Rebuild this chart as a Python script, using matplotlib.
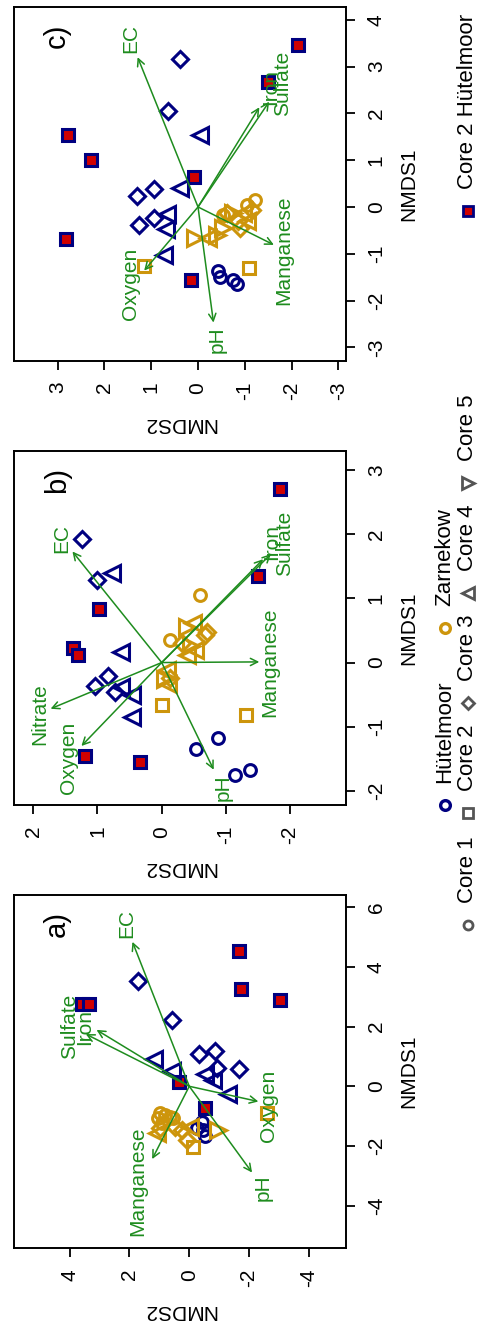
import numpy as np
import matplotlib
matplotlib.use('Agg')
import matplotlib.pyplot as plt

plt.rcParams['font.family'] = ['Liberation Sans', 'DejaVu Sans']
plt.rcParams['axes.unicode_minus'] = False

# ---- panel a) ----
a_nmds1 = [4.54, 3.25, 2.89, 2.76, 2.76, 0.16, -0.74,
           3.53, 2.22, 1.08, 1.19, 0.60, 0.57,
           0.92, 0.52, 0.40, 0.21, -0.26,
           -1.19, -1.47, -1.67, -1.40,
           -0.89, -0.96, -1.06, -1.02, -1.06, -1.23,
           -2.02, -0.88,
           -1.46, -1.80, -1.40, -1.36,
           -1.36, -1.57,
           -1.46]
a_nmds2 = [-1.67, -1.72, -3.03, 3.60, 3.35, 0.33, -0.52,
           1.71, 0.59, -0.33, -0.86, -0.94, -1.67,
           1.18, 0.59, -0.52, -0.80, -1.30,
           -0.42, -0.46, -0.52, -0.26,
           0.98, 0.81, 1.05, 0.65, 0.55, 0.91,
           -0.14, -2.59,
           0.25, 0.09, 0.98, 0.48,
           -0.02, 1.09,
           -0.97]
a_site = ['H'] * 22 + ['Z'] * 15
a_core = [2] * 7 + [3] * 6 + [4] * 5 + [1] * 4 + [1] * 6 + [2] * 2 + [3] * 4 + [4] * 2 + [5]
a_vec = ['EC', 'Sulfate', 'Iron', 'Oxygen', 'pH', 'Manganese']
a_vec1 = [4.84, 1.75, 1.89, -0.51, -2.89, -2.44]
a_vec2 = [1.90, 3.46, 3.10, -2.31, -2.10, 1.24]
a_lab1 = [5.46, 2.00, 2.00, -0.66, -3.41, -3.19]
a_lab2 = [2.10, 3.99, 3.50, -2.64, -2.47, 1.71]

# ---- panel b) ----
b_nmds1 = [2.71, 1.35, 0.84, 0.23, 0.11, -1.46, -1.55,
           1.92, 1.29, -0.21, -0.36, -0.46,
           1.39, 0.16, -0.38, -0.51, -0.85,
           -1.17, -1.34, -1.68, -1.75,
           1.05, 0.35,
           -0.66, -0.82,
           0.43, 0.30, -0.24, 0.48,
           0.61, 0.19, 0.11, -0.12, -0.33,
           0.55, 0.25, -0.25]
b_nmds2 = [-1.85, -1.50, 0.98, 1.38, 1.31, 1.19, 0.33,
           1.24, 1.00, 0.83, 1.04, 0.73,
           0.78, 0.64, 0.64, 0.47, 0.46,
           -0.87, -0.53, -1.38, -1.14,
           -0.60, -0.13,
           0.00, -1.32,
           -0.68, -0.31, -0.13, -0.70,
           -0.49, -0.52, -0.39, -0.08, -0.10,
           -0.40, -0.45, -0.05]
b_site = ['H'] * 21 + ['Z'] * 16
b_core = [2] * 7 + [3] * 5 + [4] * 5 + [1] * 4 + [1] * 2 + [2] * 2 + [3] * 4 + [4] * 5 + [5] * 3
b_vec = ['EC', 'Iron', 'Sulfate', 'Manganese', 'Nitrate', 'Oxygen', 'pH']
b_vec1 = [1.73, 1.61, 1.69, 0.01, -0.72, -1.30, -1.67]
b_vec2 = [1.39, -1.58, -1.70, -1.52, 1.73, 1.25, -0.81]
b_lab1 = [1.93, 1.88, 1.86, 0.01, -0.81, -1.48, -1.95]
b_lab2 = [1.56, -1.71, -1.92, -1.69, 1.90, 1.45, -0.95]

# ---- panel c) ----
c_nmds1 = [3.45, 2.67, 1.53, 1.00, 0.65, -0.68, -1.55,
           3.16, 2.05, 0.38, 0.23, -0.24, -0.38,
           1.54, 0.40, -0.14, -0.48, -1.03,
           -1.36, -1.50, -1.56, -1.65,
           0.15, -0.17, 0.05,
           -1.27, -1.31,
           -0.13, -0.06, -0.31, -0.45,
           -0.67, -0.13, -0.31,
           -0.67, -0.46, -0.13, -0.60]
c_nmds2 = [-2.13, -1.50, 2.77, 2.29, 0.08, 2.82, 0.15,
           0.38, 0.65, 0.95, 1.30, 0.95, 1.25,
           -0.04, 0.38, 0.67, 0.68, 0.73,
           -0.42, -0.47, -0.75, -0.84,
           -1.22, -0.54, -1.05,
           1.15, -1.08,
           -0.61, -1.15, -0.85, -0.90,
           -0.22, -0.97, -1.04,
           0.06, -0.54, -0.75, -0.40]
c_site = ['H'] * 22 + ['Z'] * 16
c_core = [2] * 7 + [3] * 6 + [4] * 5 + [1] * 4 + [1] * 3 + [2] * 2 + [3] * 4 + [4] * 3 + [5] * 4
c_vec = ['EC', 'Iron', 'Sulfate', 'Manganese', 'Oxygen', 'pH']
c_vec1 = [3.20, 2.13, 2.25, -0.81, -1.36, -2.47]
c_vec2 = [1.29, -1.31, -1.52, -1.62, 1.15, -0.33]
c_lab1 = [3.60, 2.57, 2.63, -0.92, -1.65, -2.84]
c_lab2 = [1.44, -1.55, -1.81, -1.84, 1.44, -0.40]

site_labels = ['Hütelmoor', 'Zarnekow']
core_labels = ['Core 1', 'Core 2', 'Core 3', 'Core 4', 'Core 5', 'Core 2 Hütelmoor']

navy = '#000080'
gold = '#CD950C'
green = '#1E8C1E'
red = '#D00000'
grey = '#555555'

# the whole figure is turned a quarter, so up/down triangles become left/right
marker = {1: 'o', 2: 's', 3: 'D', 4: '<', 5: '>'}
msize = {1: 8.5, 2: 8, 3: 8.5, 4: 11.5, 5: 11.5}


def panel(ax, n1, n2, site, core, vec, v1, v2, l1, l2, lim1, lim2, t1, t2, tag):
    n1 = np.array(n1)
    n2 = np.array(n2)
    site = np.array(site)
    core = np.array(core)
    for s in ['H', 'Z']:
        for c in range(1, 6):
            m = (site == s) & (core == c)
            if not m.any():
                continue
            col = navy if s == 'H' else gold
            face = red if (s == 'H' and c == 2) else 'none'
            ax.plot(n2[m], n1[m], ls='none', marker=marker[c], ms=msize[c],
                    mec=col, mfc=face, mew=2.2)
    for name, a, b, la, lb in zip(vec, v1, v2, l1, l2):
        ax.annotate('', xy=(b, a), xytext=(0, 0),
                    arrowprops=dict(arrowstyle='->', color=green, lw=1.1,
                                    shrinkA=0, shrinkB=0, mutation_scale=13))
        ax.text(lb, la, name, color=green, rotation=90, fontsize=15,
                ha='center', va='center')
    ax.set_xlim(lim2)
    ax.set_ylim(lim1)
    ax.set_xticks(t2)
    ax.set_yticks(t1)
    ax.yaxis.tick_right()
    ax.yaxis.set_label_position('right')
    ax.tick_params(direction='out', length=6.5, width=1.3, labelsize=15,
                   labelrotation=90, pad=8.5)
    for lab in ax.get_yticklabels():
        lab.set_va('center')
    for sp in ax.spines.values():
        sp.set_linewidth(1.4)
    ax.set_xlabel('NMDS2', rotation=180, fontsize=15, labelpad=10)
    ax.set_ylabel('NMDS1', fontsize=15, labelpad=10)
    ax.text(0.129, 0.918, tag, transform=ax.transAxes, rotation=90,
            fontsize=21, ha='center', va='center')


fig = plt.figure(figsize=(4.81, 13.28), dpi=100)

ax_a = fig.add_axes([0.0291, 0.0602, 0.6902, 0.2661])
ax_b = fig.add_axes([0.0291, 0.3938, 0.6902, 0.2668])
ax_c = fig.add_axes([0.0291, 0.7282, 0.6902, 0.2668])

panel(ax_a, a_nmds1, a_nmds2, a_site, a_core, a_vec, a_vec1, a_vec2, a_lab1, a_lab2,
      (-5.42, 6.42), (5.86, -5.24), [-4, -2, 0, 2, 4, 6], [-4, -2, 0, 2, 4], 'a)')
panel(ax_b, b_nmds1, b_nmds2, b_site, b_core, b_vec, b_vec1, b_vec2, b_lab1, b_lab2,
      (-2.22, 3.30), (2.30, -2.87), [-2, -1, 0, 1, 2, 3], [-2, -1, 0, 1, 2], 'b)')
panel(ax_c, c_nmds1, c_nmds2, c_site, c_core, c_vec, c_vec1, c_vec2, c_lab1, c_lab2,
      (-3.29, 4.28), (3.93, -3.16), [-3, -2, -1, 0, 1, 2, 3, 4], [-3, -2, -1, 0, 1, 2, 3], 'c)')

# legend, laid out in pixel units of the turned page
lax = fig.add_axes([0, 0, 1, 1], zorder=-1)
lax.set_xlim(0, 481)
lax.set_ylim(1328, 0)
lax.axis('off')

row1_x, row1_y = 445, [805, 628]
for lab, col, y in zip(site_labels, [navy, gold], row1_y):
    lax.plot(row1_x, y, ls='none', marker='o', ms=7, mec=col, mfc='none', mew=2.4)
    lax.text(row1_x, y - 22, lab, rotation=90, fontsize=16, ha='center', va='bottom')

row2_x, row2_y = 468, [925, 813, 703, 593, 483, 211]
for i, (lab, y) in enumerate(zip(core_labels, row2_y)):
    if i < 5:
        lax.plot(row2_x, y, ls='none', marker=marker[i + 1], ms=6.5 if i < 3 else 8,
                 mec=grey, mfc='none', mew=2)
    else:
        lax.plot(row2_x, y, ls='none', marker='s', ms=6.5, mec=navy, mfc=red, mew=2)
    lax.text(row2_x, y - 22, lab, rotation=90, fontsize=16, ha='center', va='bottom')

fig.savefig('out.png', dpi=100)
